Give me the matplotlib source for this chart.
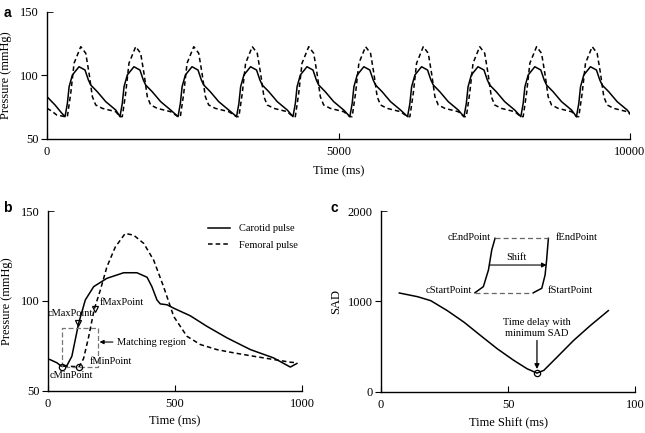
import numpy as np
import matplotlib.pyplot as plt

plt.rcParams['font.family'] = ['Liberation Serif', 'DejaVu Serif']

# --- panel a: 10 s of carotid / femoral pressure ---
# first partial beat before the first foot
lead_t = [0, 137, 250, 309]
lead_car = [83.3, 76.8, 70.5, 67.6]
lead_fem_t = [0, 80, 166, 309]
lead_fem = [74.2, 72.0, 68.9, 67.6]

# beat feet (ms) of the carotid pulse
beat_onsets = [309, 1251, 2247, 3251, 4219, 5194, 6184, 7152, 8127, 9081]

# one beat, offsets from the carotid foot (ms) and pressures (mmHg)
car_off = [0, 40, 70, 126, 240, 343, 400, 441, 554, 698, 870]
car_val = [67.6, 78.0, 91.2, 100.4, 106.9, 104.3, 96.5, 92.5, 87.2, 79.4, 72.8]
fem_off = [0, 40, 98, 155, 270, 355, 412, 469, 526, 641, 870]
fem_val = [67.6, 67.6, 86.0, 109.7, 122.7, 117.5, 101.7, 83.3, 76.8, 74.1, 71.5]
end_t = 10000
end_car = 70.0
end_fem = 69.5

# --- panel b: one beat ---
car_t = [7, 35, 52, 75, 94, 121, 147, 180, 232, 298, 350, 390, 409, 429, 442,
         469, 495, 560, 626, 705, 797, 888, 954, 980]
car_p = [67.5, 65.7, 63.8, 64.2, 69.3, 87.8, 100.6, 108.0, 112.6, 115.7, 115.7,
         113.2, 108.0, 100.6, 98.4, 97.9, 96.0, 91.8, 85.9, 79.5, 73.0, 68.4,
         63.3, 65.3]
fem_t = [60, 123, 140, 160, 182, 206, 232, 265, 304, 337, 377, 416, 455, 495,
         547, 600, 665, 731, 810, 888, 954, 980]
fem_p = [63.8, 63.5, 68.0, 80.0, 95.4, 106.0, 119.0, 130.0, 137.5, 136.6, 132.0,
         122.7, 108.0, 91.4, 80.4, 75.8, 73.0, 71.2, 69.3, 67.5, 66.0, 65.7]
c_min = (54, 63.5)
f_min = (123, 63.5)
c_max = (119, 87.9)
f_max = (184, 95.4)
box_x = [54, 198]
box_y = [63.2, 85.2]

# --- panel c: SAD vs time shift ---
shift = [7.2, 14.4, 19.6, 26.1, 32.7, 39.2, 45.8, 52.3, 57.5, 61.4, 64.1, 69.3,
         75.8, 82.4, 89.5]
sad = [1094, 1053, 1009, 899, 771, 624, 477, 349, 257, 209, 239, 385, 569, 734, 899]
sad_min = (61.4, 209)
# schematic inset
cs_x = [37.0, 40.3, 42.3, 43.6, 44.9]
cs_y = [1097, 1164, 1348, 1569, 1698]
fs_x = [60.0, 63.3, 64.6, 65.2, 65.9]
fs_y = [1097, 1146, 1293, 1459, 1698]


def style(ax, xt, yt):
    for s in ['top', 'right']:
        ax.spines[s].set_visible(False)
    ax.set_xticks(xt)
    ax.set_yticks(yt[:-1])
    ax.set_yticks([yt[-1]], labels=[str(yt[-1])], minor=True)
    ax.set_xlim(xt[0], xt[-1])
    ax.set_ylim(yt[0], yt[-1])
    ax.tick_params(axis='x', direction='in', length=4, labelsize=9, pad=5)
    ax.tick_params(axis='y', which='major', direction='out', length=4,
                   labelsize=9, pad=2)
    ax.tick_params(axis='y', which='minor', direction='in', length=4,
                   labelsize=9, pad=6)
    for s in ['left', 'bottom']:
        ax.spines[s].set_linewidth(1.0)


fig = plt.figure(figsize=(6.45, 4.33), dpi=100)

# panel a
ax = fig.add_axes([0.0729, 0.679, 0.9039, 0.2933])
ta, ca = list(lead_t), list(lead_car)
tf, cf = list(lead_fem_t), list(lead_fem)
for t0 in beat_onsets:
    for o, v in zip(car_off, car_val):
        if 0 < t0 + o < end_t and (o > 0 or t0 != beat_onsets[0]):
            ta.append(t0 + o)
            ca.append(v)
    for o, v in zip(fem_off, fem_val):
        if 0 < t0 + o < end_t and (o > 0 or t0 != beat_onsets[0]):
            tf.append(t0 + o)
            cf.append(v)
ta.append(end_t)
ca.append(end_car)
tf.append(end_t)
cf.append(end_fem)
ax.plot(ta, ca, color='black', lw=1.1)
ax.plot(tf, cf, color='black', lw=1.1, linestyle=(0, (3, 2)))
style(ax, [0, 5000, 10000], [50, 100, 150])
ax.set_xlabel('Time (ms)', fontsize=9, labelpad=5)
ax.set_ylabel('Pressure (mmHg)', fontsize=9, labelpad=6)

# panel b
bx = fig.add_axes([0.0744, 0.097, 0.3938, 0.4157])
bx.plot(car_t, car_p, color='black', lw=1.1, label='Carotid pulse')
bx.plot(fem_t, fem_p, color='black', lw=1.1, linestyle=(0, (3, 2)),
        label='Femoral pulse')
bx.plot([box_x[0], box_x[0], box_x[1], box_x[1], box_x[0]],
        [box_y[0], box_y[1], box_y[1], box_y[0], box_y[0]],
        color='#777777', lw=0.9, linestyle=(0, (4, 2)))
bx.plot(*zip(c_min, f_min), 'o', mfc='none', mec='black', ms=4.5, mew=0.9)
bx.plot(*zip(c_max, f_max), 'v', mfc='none', mec='black', ms=4.5, mew=0.9)
bx.text(c_max[0] - 30, c_max[1] + 2.5, 'cMaxPoint', fontsize=7.5, ha='center',
        va='bottom')
bx.text(f_max[0] + 20, f_max[1] + 1.5, 'fMaxPoint', fontsize=7.5, ha='left',
        va='bottom')
bx.text(c_min[0] + 40, c_min[1] - 2.5, 'cMinPoint', fontsize=7.5, ha='center',
        va='top')
bx.text(f_min[0] + 42, f_min[1] + 0.5, 'fMinPoint', fontsize=7.5, ha='left',
        va='bottom')
bx.annotate('Matching region', xy=(box_x[1] + 5, 77.2), xytext=(272, 77.2),
            fontsize=7.5, va='center', ha='left',
            arrowprops=dict(arrowstyle='-|>', color='black', lw=0.8,
                            mutation_scale=6, shrinkA=1, shrinkB=0))
leg = bx.legend(loc='upper right', frameon=False, fontsize=7.5,
                handlelength=2.2, bbox_to_anchor=(1.02, 0.98),
                labelspacing=0.7)
style(bx, [0, 500, 1000], [50, 100, 150])
bx.set_xlabel('Time (ms)', fontsize=9, labelpad=4)
bx.set_ylabel('Pressure (mmHg)', fontsize=9, labelpad=6)

# panel c
cx = fig.add_axes([0.5907, 0.0947, 0.3938, 0.418])
cx.plot(shift, sad, color='black', lw=1.1)
cx.plot(*sad_min, 'o', mfc='none', mec='black', ms=4.5, mew=0.9)
cx.annotate('Time delay with\nminimum SAD', xy=(sad_min[0], sad_min[1] + 45),
            xytext=(sad_min[0], 600), fontsize=7.5, ha='center', va='bottom',
            linespacing=1.25,
            arrowprops=dict(arrowstyle='-|>', color='black', lw=0.9,
                            mutation_scale=7, shrinkA=0, shrinkB=0))
cx.plot(cs_x, cs_y, color='black', lw=1.1)
cx.plot(fs_x, fs_y, color='black', lw=1.1)
cx.plot([cs_x[-1], fs_x[-1]], [cs_y[-1], fs_y[-1]], color='#666666', lw=0.9,
        linestyle=(0, (4, 2.5)))
cx.plot([cs_x[0], fs_x[0]], [cs_y[0], fs_y[0]], color='#666666', lw=0.9,
        linestyle=(0, (4, 2.5)))
cx.annotate('', xy=(65.2, 1403), xytext=(42.9, 1403),
            arrowprops=dict(arrowstyle='-|>', color='black', lw=0.8,
                            mutation_scale=7, shrinkA=0, shrinkB=0))
cx.text(53.4, 1440, 'Shift', fontsize=7.5, ha='center', va='bottom')
cx.text(43.3, 1710, 'cEndPoint', fontsize=7.5, ha='right', va='center')
cx.text(68.8, 1710, 'fEndPoint', fontsize=7.5, ha='left', va='center')
cx.text(35.8, 1120, 'cStartPoint', fontsize=7.5, ha='right', va='center')
cx.text(65.6, 1120, 'fStartPoint', fontsize=7.5, ha='left', va='center')
style(cx, [0, 50, 100], [0, 1000, 2000])
cx.set_xlabel('Time Shift (ms)', fontsize=9, labelpad=4)
cx.set_ylabel('SAD', fontsize=9, labelpad=4)

for lab, x, y in [('a', 0.005, 0.985), ('b', 0.005, 0.535), ('c', 0.512, 0.535)]:
    fig.text(x, y, lab, fontsize=10, fontweight='bold',
             family=['Liberation Sans', 'DejaVu Sans'], va='top')

fig.savefig('out.png', dpi=100)
